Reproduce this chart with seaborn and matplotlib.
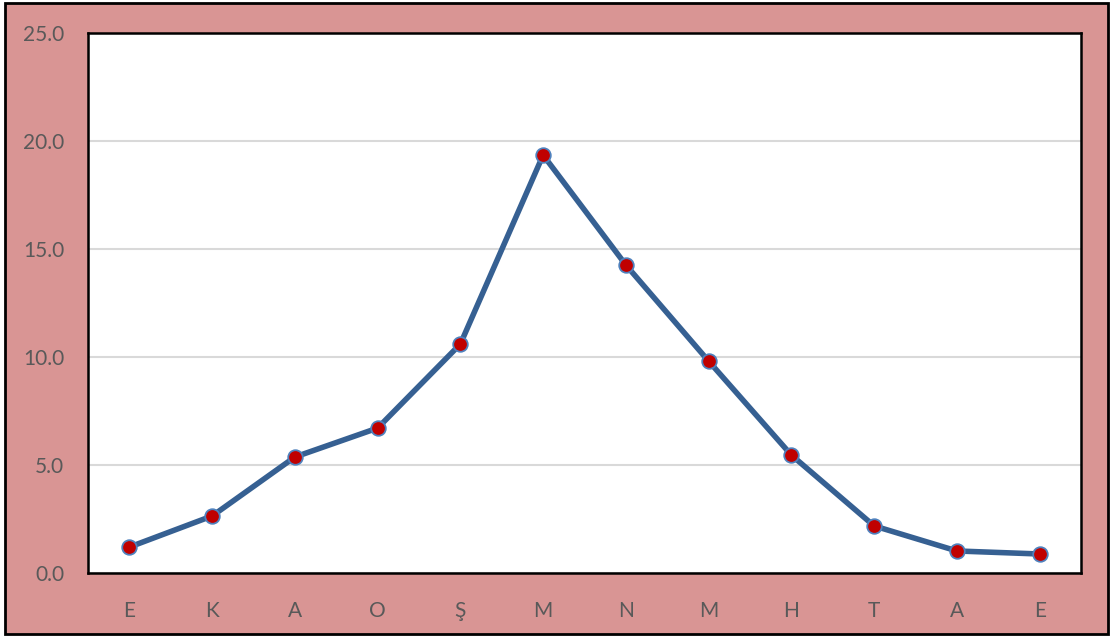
import matplotlib
matplotlib.use("Agg")
import matplotlib.pyplot as plt
import seaborn as sns
import pandas as pd
from matplotlib.patches import Rectangle

months = ["E", "K", "A", "O", "Ş", "M", "N", "M", "H", "T", "A", "E"]
values = [1.2, 2.64, 5.37, 6.71, 10.6, 19.35, 14.26, 9.81, 5.46, 2.18, 1.02, 0.88]
y_ticks = [0.0, 5.0, 10.0, 15.0, 20.0, 25.0]

sns.set_theme(style="white")
plt.rcParams["font.family"] = ["Lato", "DejaVu Sans"]

W, H = 1110, 637
fig = plt.figure(figsize=(W / 100, H / 100), dpi=100, facecolor="white")

# pink chart area with a black frame, kept behind the axes
fig.patches.append(Rectangle((5 / W, 1 - 634 / H), (1108 - 5) / W, (634 - 3) / H,
                             transform=fig.transFigure, facecolor="#D99594",
                             edgecolor="black", linewidth=2, zorder=-5))

ax = fig.add_axes([88 / W, 1 - 573 / H, (1081 - 88) / W, (573 - 33) / H])
ax.set_zorder(1)
ax.set_facecolor("white")

df = pd.DataFrame({"pos": range(len(months)), "val": values})
sns.lineplot(data=df, x="pos", y="val", ax=ax, color="#366092", linewidth=4,
             marker="o", markersize=10.5, markerfacecolor="#C00000",
             markeredgecolor="#4F81BD", markeredgewidth=1.3, zorder=3)

ax.set_xlim(-0.5, len(months) - 0.5)
ax.set_ylim(0, 25)
ax.set_xticks(range(len(months)))
ax.set_xticklabels(months)
ax.set_yticks(y_ticks)
ax.set_yticklabels([f"{v:.1f}" for v in y_ticks])
ax.yaxis.grid(True, color="#D9D9D9", linewidth=1.5)
ax.set_axisbelow(True)
ax.tick_params(axis="y", length=0, pad=17, labelsize=15, labelcolor="#595959")
ax.tick_params(axis="x", length=0, pad=20, labelsize=15, labelcolor="#595959")
ax.set_xlabel("")
ax.set_ylabel("")
for s in ax.spines.values():
    s.set_visible(True)
    s.set_color("black")
    s.set_linewidth(1.8)

fig.savefig("out.png", dpi=100, facecolor="white")
